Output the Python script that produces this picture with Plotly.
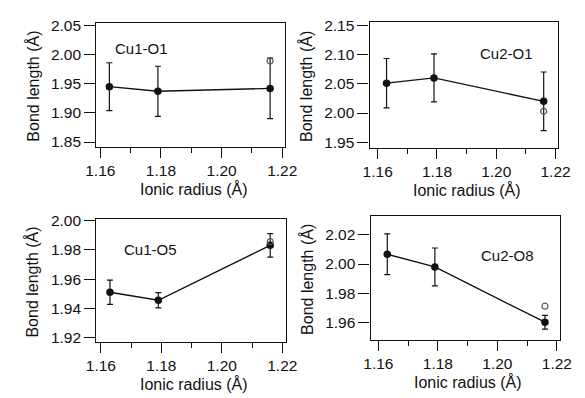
import plotly.graph_objects as go

W, H = 585, 398

radius = [1.163, 1.179, 1.216]

panels = ["Cu1-O1", "Cu2-O1", "Cu1-O5", "Cu2-O8"]
bond_cu1_o1 = [1.945, 1.937, 1.942]
err_cu1_o1 = [0.041, 0.043, 0.052]
open_cu1_o1 = 1.989

bond_cu2_o1 = [2.051, 2.060, 2.020]
err_cu2_o1 = [0.042, 0.041, 0.050]
open_cu2_o1 = 2.003

bond_cu1_o5 = [1.951, 1.9455, 1.983]
err_cu1_o5 = [0.0083, 0.0052, 0.008]
open_cu1_o5 = 1.9856

bond_cu2_o8 = [2.0067, 1.998, 1.960]
err_cu2_o8 = [0.014, 0.013, 0.0047]
open_cu2_o8 = 1.971

x_ticks = [1.16, 1.18, 1.20, 1.22]
x_tick_text = ["1.16", "1.18", "1.20", "1.22"]
y_ticks = [
    [1.85, 1.90, 1.95, 2.00, 2.05],
    [1.95, 2.00, 2.05, 2.10, 2.15],
    [1.92, 1.94, 1.96, 1.98, 2.00],
    [1.96, 1.98, 2.00, 2.02],
]
y_tick_text = [
    ["1.85", "1.90", "1.95", "2.00", "2.05"],
    ["1.95", "2.00", "2.05", "2.10", "2.15"],
    ["1.92", "1.94", "1.96", "1.98", "2.00"],
    ["1.96", "1.98", "2.00", "2.02"],
]

bonds = [bond_cu1_o1, bond_cu2_o1, bond_cu1_o5, bond_cu2_o8]
errs = [err_cu1_o1, err_cu2_o1, err_cu1_o5, err_cu2_o8]
opens = [open_cu1_o1, open_cu2_o1, open_cu1_o5, open_cu2_o8]

# pixel boxes (left, top, right, bottom)
boxes = [(89, 15, 286, 143), (374, 14, 570, 144), (89, 218, 287, 344), (375, 214, 572, 342)]
x_ranges = [[1.1587, 1.221], [1.1573, 1.2207], [1.1585, 1.2213], [1.1574, 1.2209]]
y_ranges = [[1.842, 2.055], [1.941, 2.156], [1.9173, 2.0007], [1.948, 2.0333]]
label_pos = [(1.1735, 2.011), (1.2035, 2.102), (1.1765, 1.9805), (1.2035, 2.006)]

font = "Liberation Sans, Arial, Helvetica, sans-serif"
fig = go.Figure()
layout = dict(
    width=W, height=H, margin=dict(l=0, r=0, t=0, b=0),
    paper_bgcolor="white", plot_bgcolor="white", showlegend=False,
    font=dict(family=font, size=15, color="#111"),
)
annotations = []
for i in range(4):
    ax = "" if i == 0 else str(i + 1)
    xa, ya = "x" + ax, "y" + ax
    l, t, r, b = boxes[i]
    fig.add_trace(go.Scatter(
        x=radius, y=bonds[i], xaxis=xa, yaxis=ya, mode="lines+markers",
        line=dict(color="#111", width=1.4),
        marker=dict(color="#111", size=7.5),
        error_y=dict(type="data", array=errs[i], color="#111", thickness=1.2, width=3),
    ))
    fig.add_trace(go.Scatter(
        x=[radius[2]], y=[opens[i]], xaxis=xa, yaxis=ya, mode="markers",
        marker=dict(symbol="circle-open", color="#555", size=6, line=dict(width=1.2)),
    ))
    layout["xaxis" + ax] = dict(
        domain=[l / W, r / W], range=x_ranges[i], anchor=ya,
        tickvals=x_ticks, ticktext=x_tick_text, ticks="outside", ticklen=10,
        tickwidth=1.2, tickcolor="#111", showline=True, linecolor="#111", linewidth=1.4,
        mirror=True, showgrid=False, zeroline=False,
        tickfont=dict(size=15.5),
        minor=dict(tickvals=[1.17, 1.19, 1.21], ticks="outside", ticklen=5, tickcolor="#111", tickwidth=1.2, showgrid=False),
    )
    layout["yaxis" + ax] = dict(
        domain=[1 - b / H, 1 - t / H], range=y_ranges[i], anchor=xa,
        tickvals=y_ticks[i], ticktext=y_tick_text[i], ticks="outside", ticklen=11,
        tickwidth=1.2, tickcolor="#111", showline=True, linecolor="#111", linewidth=1.4,
        mirror=True, showgrid=False, zeroline=False, tickfont=dict(size=15.5),
    )
    annotations.append(dict(
        x=label_pos[i][0], y=label_pos[i][1], xref=xa, yref=ya, text=panels[i],
        showarrow=False, font=dict(size=15), xanchor="center", yanchor="middle",
    ))
    # axis titles
    cx = (l + r) / 2 + 3
    annotations.append(dict(
        x=cx / W, y=1 - (b + 44) / H, xref="paper", yref="paper",
        text="Ionic radius (Å)", showarrow=False, font=dict(size=16),
        xanchor="center", yanchor="middle",
    ))
    annotations.append(dict(
        x=(l - 67) / W, y=1 - ((t + b) / 2 + 2) / H, xref="paper", yref="paper",
        text="Bond length (Å)", showarrow=False, font=dict(size=16), textangle=-90,
        xanchor="center", yanchor="middle",
    ))
layout["annotations"] = annotations
fig.update_layout(**layout)
fig.write_html("out.html", config={"displayModeBar": False},
               post_script="document.body.style.margin='0';")
